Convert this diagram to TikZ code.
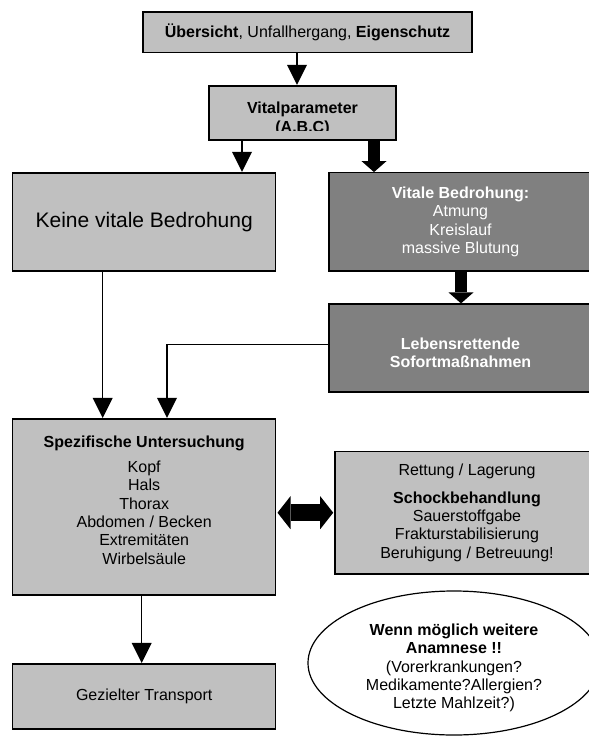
\documentclass[tikz,border=0pt]{standalone}
\usepackage{fontspec}
\setmainfont{Liberation Sans}
\usetikzlibrary{arrows.meta,shapes.geometric}
\definecolor{boxlight}{HTML}{C0C0C0}
\definecolor{boxdark}{HTML}{808080}
\newcommand\myfs{\fontsize{16}{18.4}\selectfont}
\tikzset{
  boxbase/.style={draw=black, line width=1.2pt, inner sep=0pt, align=center, font=\myfs},
  lightbox/.style={boxbase, fill=boxlight},
  darkbox/.style={boxbase, fill=boxdark, text=white},
  lighttext/.style={align=center, font=\myfs, inner sep=0pt},
  darktext/.style={lighttext, text=white},
  thinarrow/.style={line width=1.2pt, -{Triangle[width=20pt,length=20pt,line width=0pt]}, shorten >=0.5pt},
  thickarrow/.style={line width=12.5pt, -{Triangle[width=25pt,length=11pt,line width=0pt]}},
  doublearrow/.style={line width=17pt, {Triangle[width=33pt,length=13pt,line width=0pt]}-{Triangle[width=33pt,length=13pt,line width=0pt]}, shorten <=1.2pt, shorten >=1.2pt}
}
\begin{document}
\begin{tikzpicture}[x=1pt,y=-1pt]
\useasboundingbox (0,0) rectangle (589,737);
\clip (0,0) rectangle (589,737);
\fill[white] (0,0) rectangle (589,737);

% boxes
\node[lightbox, minimum width=329pt, minimum height=40.7pt] (title) at (307.5,32.35)
  {\textbf{Übersicht}, Unfallhergang, \textbf{Eigenschutz}};

\node[lightbox, minimum width=187pt, minimum height=54pt] (vp) at (302.5,113) {};
\begin{scope}
  \clip (209,86) rectangle (396,130);
  \node[anchor=base, font=\myfs\bfseries, inner sep=0pt] (vpa) at (302.5,113) {Vitalparameter};
  \node[anchor=base, font=\myfs\bfseries, inner sep=0pt] (vpb) at (302.5,132) {(A.B.C)};
\end{scope}

\node[lightbox, minimum width=263pt, minimum height=98pt, font=\fontsize{21}{24}\selectfont] (keine) at (144.2,222)
  {Keine vitale Bedrohung};

\node[darkbox, minimum width=263pt, minimum height=98.3pt] (vitale) at (460.5,221.85)
  {\textbf{Vitale Bedrohung:}\\Atmung\\Kreislauf\\massive Blutung};

\node[darkbox, minimum width=263pt, minimum height=88pt,
  label={[darktext, name=lebenstext, yshift=-4.5pt]center:{\textbf{Lebensrettende}\\\textbf{Sofortmaßnahmen}}}]
  (lebens) at (460.5,348) {};

\node[lightbox, minimum width=263pt, minimum height=176pt,
  label={[lighttext, name=speztext, yshift=7pt]center:{\textbf{Spezifische Untersuchung}\\[6.6pt]Kopf\\Hals\\Thorax\\Abdomen / Becken\\Extremitäten\\Wirbelsäule}}]
  (spez) at (144.2,507) {};

\node[lightbox, minimum width=264pt, minimum height=122.3pt] (rett) at (467,512.85)
  {Rettung / Lagerung\\[8.9pt]\textbf{Schockbehandlung}\\Sauerstoffgabe\\Frakturstabilisierung\\Beruhigung / Betreuung!};

\node[lightbox, minimum width=263pt, minimum height=65pt] (gez) at (144.2,696.5) {Gezielter Transport};

\node[draw=black, ellipse, line width=1.2pt, fill=white, minimum width=292pt, minimum height=144pt, inner sep=0pt,
  label={[lighttext, name=elltext, yshift=-5pt]center:{\textbf{Wenn möglich weitere}\\\textbf{Anamnese !!}\\(Vorerkrankungen?\\Medikamente?Allergien?\\Letzte Mahlzeit?)}}]
  (ell) at (454,663) {};

% connectors
\coordinate (xa) at (297,0);
\draw[thinarrow] (title.south -| xa) -- (vp.north -| xa);
\coordinate (xb) at (242,0);
\draw[thinarrow] (vp.south -| xb) -- (keine.north -| xb);
\coordinate (xc) at (374,0);
\draw[thickarrow] (vp.south -| xc) -- (vitale.north -| xc);
\coordinate (xd) at (461,0);
\draw[thickarrow] (vitale.south -| xd) -- (lebens.north -| xd);
\coordinate (xe) at (102.7,0);
\draw[thinarrow] (keine.south -| xe) -- (spez.north -| xe);
\coordinate (xf) at (167,344.5);
\draw[thinarrow] (lebens.west |- xf) -| (spez.north -| xf);
\coordinate (xg) at (141.7,0);
\draw[thinarrow] (spez.south -| xg) -- (gez.north -| xg);
\coordinate (yh) at (0,512.7);
\draw[doublearrow] (spez.east |- yh) -- (rett.west |- yh);
\end{tikzpicture}
\end{document}
